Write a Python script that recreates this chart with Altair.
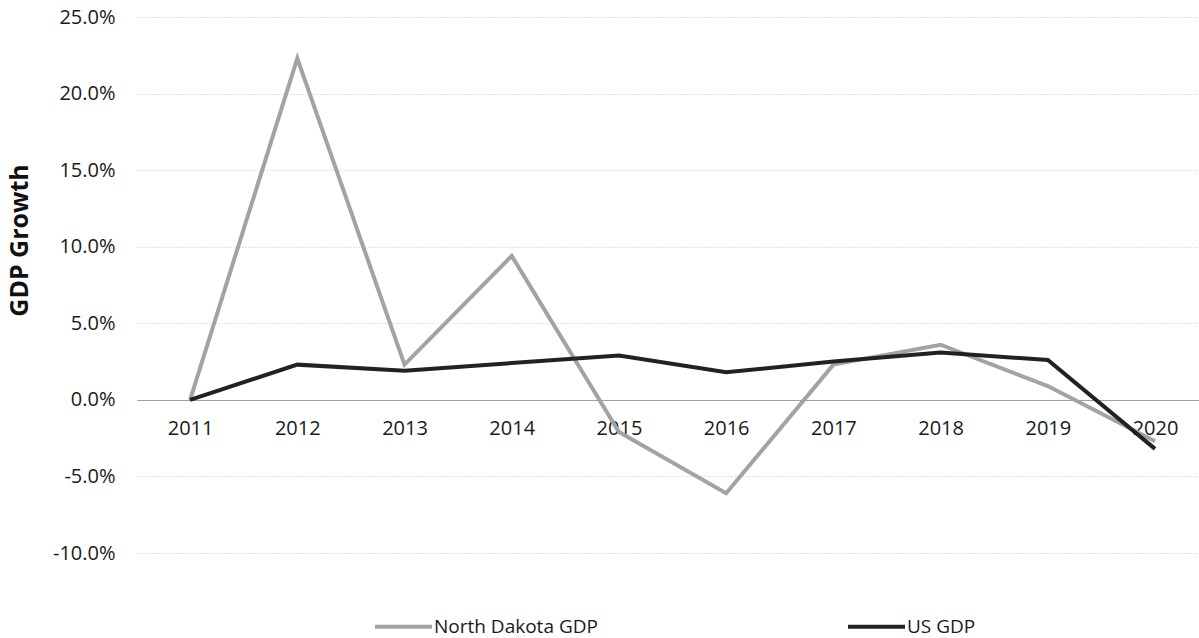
import altair as alt
import pandas as pd

years = [2011, 2012, 2013, 2014, 2015, 2016, 2017, 2018, 2019, 2020]
nd_gdp = [0.0, 22.3, 2.3, 9.4, -2.1, -6.1, 2.3, 3.6, 0.9, -2.7]
us_gdp = [0.0, 2.3, 1.9, 2.4, 2.9, 1.8, 2.5, 3.1, 2.6, -3.2]
series_names = ["North Dakota GDP", "US GDP"]
series_colors = ["#a3a3a3", "#222222"]
y_ticks = [-10, -5, 0, 5, 10, 15, 20, 25]

rows = []
for y, v in zip(years, nd_gdp):
    rows.append({"year": y, "value": v / 100, "series": series_names[0]})
for y, v in zip(years, us_gdp):
    rows.append({"year": y, "value": v / 100, "series": series_names[1]})
df = pd.DataFrame(rows)

FONT = "Open Sans"

chart = alt.Chart(df).mark_line(strokeWidth=4, strokeJoin="miter").encode(
    x=alt.X(
        "year:Q",
        scale=alt.Scale(domain=[2010.505, 2020.41], nice=False, zero=False),
        axis=alt.Axis(
            title=None,
            values=years,
            format="d",
            grid=False,
            ticks=False,
            offset=-153,
            labelPadding=18,
            labelFontSize=20,
            labelColor="#1a1a1a",
            labelFont=FONT,
            domainColor="#a0a0a0",
            domainWidth=1,
        ),
    ),
    y=alt.Y(
        "value:Q",
        scale=alt.Scale(domain=[-0.10, 0.25], nice=False),
        axis=alt.Axis(
            title="GDP Growth",
            values=[t / 100 for t in y_ticks],
            labelExpr="replace(format(datum.value, '.1%'), '\u2212', '-')",
            ticks=False,
            domain=False,
            grid=True,
            gridColor="#c8c8c8",
            gridDash=[1, 2],
            gridWidth=1,
            labelPadding=22,
            labelFontSize=20,
            labelColor="#1a1a1a",
            labelFont=FONT,
            titleFont=FONT,
            titleFontSize=25,
            titleFontWeight="bold",
            titleColor="#111111",
            titleAngle=-90,
            titleX=-118,
            titleY=223,
            titleAlign="center",
            titleBaseline="middle",
        ),
    ),
    color=alt.Color(
        "series:N",
        scale=alt.Scale(domain=series_names, range=series_colors),
        legend=alt.Legend(
            title=None,
            orient="none",
            legendX=236,
            legendY=579,
            direction="horizontal",
            symbolType="stroke",
            symbolSize=3249,
            symbolStrokeWidth=4,
            labelFontSize=19,
            labelFont=FONT,
            labelColor="#1a1a1a",
            labelOffset=0,
            columnPadding=242,
            labelLimit=400,
        ),
    ),
).properties(
    width=1062,
    height=536,
    autosize=alt.AutoSizeParams(type="none"),
    padding={"left": 137, "top": 17, "right": 0, "bottom": 85},
).configure(background="white", view=alt.ViewConfig(stroke=None))

chart.save("out.html", embed_options={"renderer": "svg", "actions": False})
